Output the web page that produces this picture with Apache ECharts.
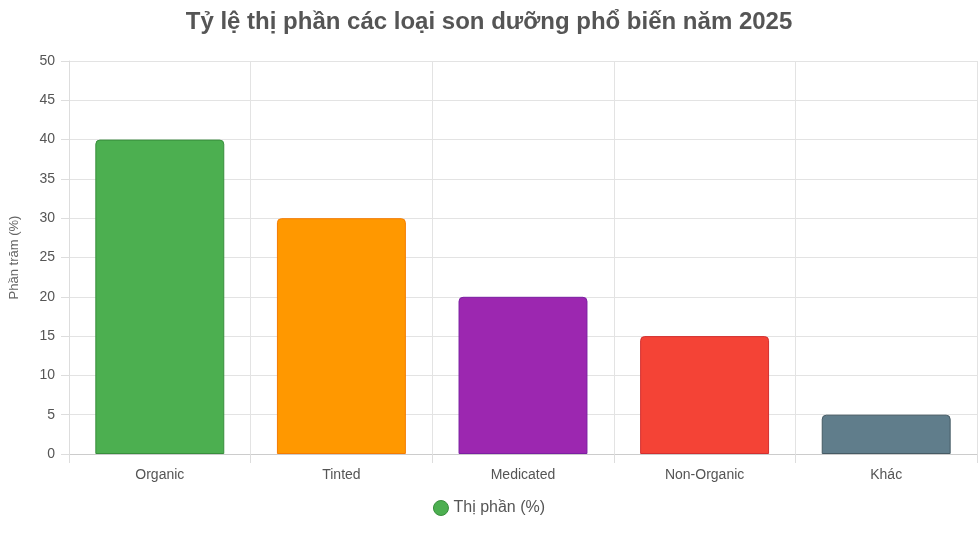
<!DOCTYPE html>
<html><head><meta charset="utf-8">
<script src="https://cdn.jsdelivr.net/npm/echarts@6/dist/echarts.min.js"></script>
<style>html,body{margin:0;padding:0;background:#fff}#c{width:978px;height:533px}</style>
</head><body><div id="c"></div>
<script>
const categories = ["Organic", "Tinted", "Medicated", "Non-Organic", "Khác"];
const values = [40, 30, 20, 15, 5];
const colors = ["#4CAF50", "#FF9800", "#9C27B0", "#F44336", "#607D8B"];
const borders = ["#388E3C", "#F57C00", "#7B1FA2", "#D32F2F", "#455A64"];
const chart = echarts.init(document.getElementById('c'));
chart.setOption({
  animation: false,
  title: { text: "Tỷ lệ thị phần các loại son dưỡng phổ biến năm 2025", left: 'center', top: 5,
    textStyle: { fontFamily: 'Arial, Liberation Sans', fontSize: 24, fontWeight: 'bold', color: '#555' } },
  legend: { bottom: 12, icon: 'circle', itemWidth: 15, itemHeight: 15,
    textStyle: { fontFamily: 'Arial, Liberation Sans', fontSize: 16, color: '#555' },
    data: [{ name: 'Thị phần (%)', itemStyle: { color: colors[0], borderColor: borders[0], borderWidth: 1 } }] },
  grid: { left: 62, right: 1, top: 61, bottom: 79, containLabel: false },
  xAxis: { type: 'category', data: categories,
    axisLine: { lineStyle: { color: '#ccc' } },
    axisTick: { show: true, length: 9, lineStyle: { color: '#ddd' } },
    splitLine: { show: true, lineStyle: { color: '#e3e3e3' } },
    axisLabel: { color: '#555', fontSize: 14, margin: 14, fontFamily: 'Arial, Liberation Sans' } },
  yAxis: { type: 'value', min: 0, max: 50, interval: 5,
    name: 'Phần trăm (%)', nameLocation: 'middle', nameGap: 48, nameRotate: 90,
    nameTextStyle: { color: '#666', fontSize: 13, fontFamily: 'Arial, Liberation Sans' },
    axisLine: { show: true, lineStyle: { color: '#ddd' } },
    axisTick: { show: true, length: 8, lineStyle: { color: '#ddd' } },
    splitLine: { lineStyle: { color: '#e3e3e3' } },
    axisLabel: { color: '#555', fontSize: 14, margin: 14, fontFamily: 'Arial, Liberation Sans' } },
  series: [{ name: 'Thị phần (%)', type: 'bar', barWidth: '71%',
    data: values.map((v, i) => ({ value: v, itemStyle: { color: colors[i], borderColor: borders[i], borderWidth: 1, borderRadius: [4, 4, 0, 0] } })) }]
});
</script></body></html>
